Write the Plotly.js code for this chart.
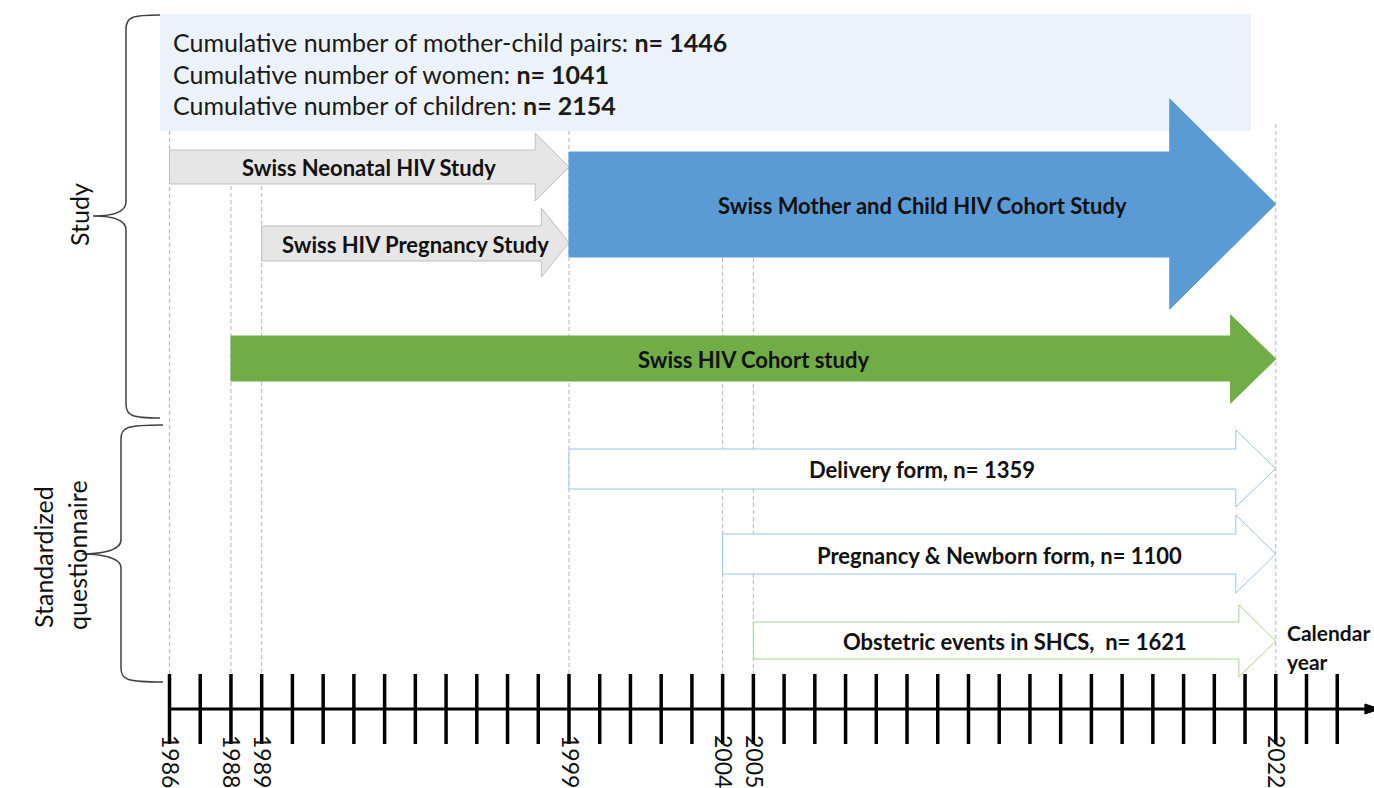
<!DOCTYPE html>
<html>
<head>
<meta charset="utf-8">
<script src="https://cdn.plot.ly/plotly-3.0.1.min.js"></script>
<style>html,body{margin:0;padding:0;background:#fff;} #chart{width:1374px;height:788px;}</style>
</head>
<body>
<div id="chart"></div>
<script>
// ---------------- DATA ----------------
const cumLabels = ['Cumulative number of mother-child pairs:', 'Cumulative number of women:', 'Cumulative number of children:'];
const cumN = [1446, 1041, 2154];

const studyNames = ['Swiss Neonatal HIV Study', 'Swiss HIV Pregnancy Study', 'Swiss Mother and Child HIV Cohort Study', 'Swiss HIV Cohort study'];
const studyStart = [1986, 1989, 1999, 1988];
const studyEnd = [1999, 1999, 2022, 2022];

const formNames = ['Delivery form,', 'Pregnancy & Newborn form,', 'Obstetric events in SHCS,&nbsp;'];
const formN = [1359, 1100, 1621];
const formStart = [1999, 2004, 2005];
const formEnd = [2022, 2022, 2022];

const tickYears = [1986, 1987, 1988, 1989, 1990, 1991, 1992, 1993, 1994, 1995, 1996, 1997, 1998, 1999, 2000,
  2001, 2002, 2003, 2004, 2005, 2006, 2007, 2008, 2009, 2010, 2011, 2012, 2013, 2014, 2015, 2016, 2017, 2018,
  2019, 2020, 2021, 2022, 2023, 2024];
const labelYears = [1986, 1988, 1989, 1999, 2004, 2005, 2022];

// ---------------- STYLE / LAYOUT ----------------
const W = 1374, H = 788;
const FONT = 'Lato, "Open Sans", sans-serif';
const px = v => v / W; // paper x from pixel
// y axis is in pixels (reversed)
const studyStyle = [
  {top:150, bot:184, htop:133, hbot:201, head:1.1, fill:'#E7E6E6', line:'#BFBFBF', tc:'#111', ty:167},
  {top:226, bot:261, htop:208, hbot:277, head:0.9, fill:'#E7E6E6', line:'#BFBFBF', tc:'#111', ty:244},
  {top:152, bot:257, htop:99,  hbot:309, head:3.45, fill:'#5B9BD5', line:'#5B9BD5', tc:'#111', ty:205},
  {top:336, bot:381, htop:315, hbot:403, head:1.47, fill:'#70AD47', line:'#70AD47', tc:'#111', ty:359}
];
const formStyle = [
  {top:449, bot:489, htop:430, hbot:507, head:1.3, fill:'#FFFFFF', line:'#9DC3E6', ty:469},
  {top:534, bot:574, htop:515, hbot:593, head:1.3, fill:'#FFFFFF', line:'#9DC3E6', ty:555},
  {top:622, bot:659, htop:605, hbot:677, head:1.2, fill:'#FFFFFF', line:'#A9D18E', ty:641}
];
const guideTop = {1986:131, 1988:186, 1989:186, 1999:131, 2004:258, 2005:258, 2022:124};
const axisY = 709;

function arrowPath(x0, x1, s) {
  const xh = x1 - s.head, yc = (s.htop + s.hbot) / 2;
  return `M${x0},${s.top} L${xh},${s.top} L${xh},${s.htop} L${x1},${yc} L${xh},${s.hbot} L${xh},${s.bot} L${x0},${s.bot} Z`;
}
function bracePath(xTip, xSpine, xPoint, yTop, yMid, yBot) {
  const P = (x, y) => `${px(x)},${y}`;
  return `M${P(xTip, yTop)} C${P(xSpine + 6, yTop)} ${P(xSpine, yTop + 2)} ${P(xSpine, yTop + 14)} ` +
    `L${P(xSpine, yMid - 14)} C${P(xSpine, yMid - 2)} ${P(xPoint + 14, yMid)} ${P(xPoint, yMid)} ` +
    `C${P(xPoint + 14, yMid)} ${P(xSpine, yMid + 2)} ${P(xSpine, yMid + 14)} ` +
    `L${P(xSpine, yBot - 14)} C${P(xSpine, yBot - 2)} ${P(xSpine + 6, yBot)} ${P(xTip, yBot)}`;
}

const shapes = [];
const annotations = [];

// light info box
shapes.push({type:'rect', xref:'paper', yref:'y', x0:px(160), x1:px(1251), y0:14, y1:131,
  fillcolor:'#EBF2F9', line:{width:0}, layer:'below'});

// dashed guide lines
labelYears.forEach(y => {
  shapes.push({type:'line', xref:'x', yref:'y', x0:y, x1:y, y0:guideTop[y], y1:683,
    line:{color:'#B4B4B4', width:1, dash:'4px,3px'}, layer:'below'});
});

// study arrows
studyNames.forEach((n, i) => {
  const s = studyStyle[i];
  shapes.push({type:'path', xref:'x', yref:'y', path:arrowPath(studyStart[i], studyEnd[i], s),
    fillcolor:s.fill, line:{color:s.line, width:1}});
  annotations.push({xref:'x', yref:'y', x:(studyStart[i] + studyEnd[i]) / 2, y:s.ty,
    text:'<b>' + n + '</b>', showarrow:false, font:{family:FONT, size:22, color:s.tc}});
});

// form arrows
formNames.forEach((n, i) => {
  const s = formStyle[i];
  shapes.push({type:'path', xref:'x', yref:'y', path:arrowPath(formStart[i], formEnd[i], s),
    fillcolor:s.fill, line:{color:s.line, width:1}});
  annotations.push({xref:'x', yref:'y', x:(formStart[i] + formEnd[i]) / 2, y:s.ty,
    text:'<b>' + n + ' n= ' + formN[i] + '</b>', showarrow:false, font:{family:FONT, size:22, color:'#111'}});
});

// cumulative texts
cumLabels.forEach((t, i) => {
  annotations.push({xref:'paper', yref:'y', x:px(171), y:42 + i * 31.5, xanchor:'left', yanchor:'middle',
    text:t + ' <b>n= ' + cumN[i] + '</b>', showarrow:false, font:{family:FONT, size:25, color:'#1a1a1a'}});
});

// braces
shapes.push({type:'path', xref:'paper', yref:'y', path:bracePath(160, 126, 93, 15, 216, 418),
  line:{color:'#404040', width:1.5}});
shapes.push({type:'path', xref:'paper', yref:'y', path:bracePath(163, 121, 82, 425, 554, 682),
  line:{color:'#404040', width:1.5}});
annotations.push({xref:'paper', yref:'y', x:px(62), y:215, text:'Study', textangle:-90, showarrow:false,
  font:{family:FONT, size:25, color:'#111'}});
annotations.push({xref:'paper', yref:'y', x:px(26), y:557, text:'Standardized', textangle:-90, showarrow:false,
  font:{family:FONT, size:25, color:'#111'}});
annotations.push({xref:'paper', yref:'y', x:px(60), y:555, text:'questionnaire', textangle:-90, showarrow:false,
  font:{family:FONT, size:25, color:'#111'}});
annotations.push({xref:'paper', yref:'y', x:px(1285), y:632, xanchor:'left', text:'<b>Calendar</b>', showarrow:false,
  font:{family:FONT, size:21, color:'#111'}});
annotations.push({xref:'paper', yref:'y', x:px(1285), y:661, xanchor:'left', text:'<b>year</b>', showarrow:false,
  font:{family:FONT, size:21, color:'#111'}});

// time axis line and arrowhead
const axisEnd = tickYears[tickYears.length - 1] + 1.0;
shapes.push({type:'line', xref:'x', yref:'y', x0:tickYears[0], x1:axisEnd, y0:axisY, y1:axisY,
  line:{color:'#000', width:3}});
shapes.push({type:'path', xref:'x', yref:'y',
  path:`M${axisEnd - 0.1},${axisY - 5} L${axisEnd + 0.4},${axisY} L${axisEnd - 0.1},${axisY + 5} Z`,
  fillcolor:'#000', line:{color:'#000', width:1}});

const ppy = 30.73;
const xr0 = 1986 - 169.5 / ppy;
const xr1 = xr0 + W / ppy;

const traces = [{
  type:'scatter', mode:'markers', x:tickYears, y:tickYears.map(() => axisY),
  marker:{symbol:'line-ns', size:50, line:{width:3.5, color:'#000'}, color:'#000'},
  hoverinfo:'skip', showlegend:false, cliponaxis:false
}];

const layout = {
  width:W, height:H, margin:{l:0, r:0, t:0, b:0}, paper_bgcolor:'#fff', plot_bgcolor:'#fff',
  showlegend:false,
  xaxis:{range:[xr0, xr1], showgrid:false, zeroline:false, showline:false, ticks:'',
    tickmode:'array', tickvals:labelYears, ticktext:labelYears.map(String), tickangle:90,
    tickfont:{family:FONT, size:23, color:'#111'}, anchor:'free', position:(H - 734) / H, automargin:false,
    fixedrange:true},
  yaxis:{range:[H, 0], visible:false, domain:[0, 1], fixedrange:true},
  shapes:shapes, annotations:annotations
};

Plotly.newPlot('chart', traces, layout, {displayModeBar:false, staticPlot:true});
</script>
</body>
</html>
